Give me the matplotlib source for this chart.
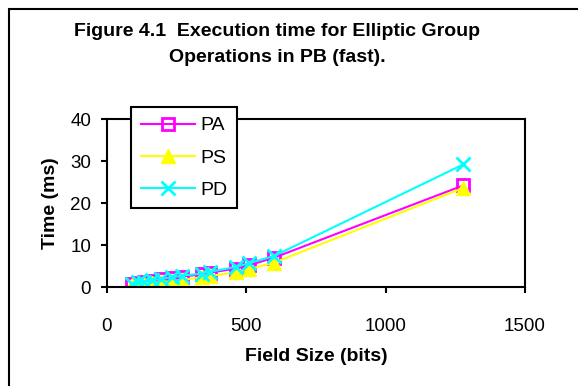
import matplotlib
matplotlib.use('Agg')
import matplotlib.pyplot as plt
from matplotlib.patches import Rectangle

plt.rcParams['font.family'] = ['Liberation Sans', 'DejaVu Sans']

# datos
field_size = [89, 113, 131, 163, 193, 233, 268, 340, 368, 464, 511, 600, 1279]
pa = [0.8, 1.0, 1.2, 1.5, 1.8, 2.1, 2.5, 3.0, 3.4, 4.4, 5.2, 7.0, 24.2]
ps = [0.4, 0.6, 0.7, 0.9, 1.2, 1.4, 1.7, 2.3, 2.6, 3.5, 4.3, 5.8, 23.6]
pd_ = [0.8, 1.1, 1.3, 1.6, 1.9, 2.3, 2.7, 3.2, 3.6, 4.8, 5.7, 7.4, 29.2]
x_ticks = [0, 500, 1000, 1500]
y_ticks = [0, 10, 20, 30, 40]

W, H = 578, 386
fig = plt.figure(figsize=(W / 100, H / 100), dpi=100)
ax = fig.add_axes([107 / W, 1 - 287 / H, (525 - 107) / W, (287 - 119) / H])

ax.plot(field_size, pa, color='#FF00FF', lw=1.5, marker='s', markersize=8,
        mfc='none', mec='#FF00FF', mew=2, label='PA')
ax.plot(field_size, ps, color='#FFFF00', lw=1.5, marker='^', markersize=10,
        mfc='#FFFF00', mec='#FFFF00', label='PS')
ax.plot(field_size, pd_, color='#00FFFF', lw=1.5, marker='x', markersize=10,
        mew=2, label='PD')

ax.set_xlim(0, 1500)
ax.set_ylim(0, 40)
ax.set_xticks(x_ticks)
ax.set_yticks(y_ticks)
for s in ax.spines.values():
    s.set_linewidth(1.5)
    s.set_color('black')
ax.tick_params(direction='out', length=4.5, width=1.5, labelsize=13.5)
ax.tick_params(axis='x', pad=18)
ax.tick_params(axis='y', pad=7)

ax.set_xlabel('Field Size (bits)', fontsize=14, fontweight='bold', labelpad=9)
ax.set_ylabel('Time (ms)', fontsize=14, fontweight='bold', labelpad=8)

fig.text(277 / W, 1 - 32 / H, 'Figure 4.1  Execution time for Elliptic Group',
         ha='center', va='center', fontsize=14, fontweight='bold')
fig.text(277 / W, 1 - 58 / H, 'Operations in PB (fast).',
         ha='center', va='center', fontsize=14, fontweight='bold')

leg = fig.legend(loc='upper left', bbox_to_anchor=(131 / W, 1 - 107 / H),
                 fontsize=14, frameon=True, fancybox=False, framealpha=1,
                 edgecolor='black', handlelength=2.8, labelspacing=0.75,
                 borderpad=0.5, handletextpad=0.25, borderaxespad=0)
leg.get_frame().set_linewidth(1.5)

# borde exterior
fig.patches.append(Rectangle((9 / W, -0.1), 1.2, 1 - 9 / H + 0.1,
                             transform=fig.transFigure, fill=False,
                             edgecolor='black', lw=1.5))

fig.savefig('out.png', dpi=100)
